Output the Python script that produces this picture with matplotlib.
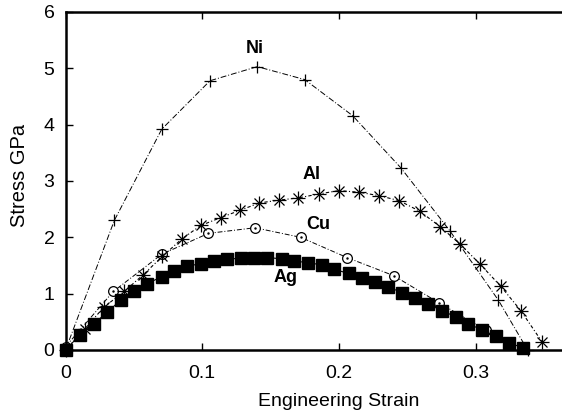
import matplotlib
matplotlib.use("Agg")
import matplotlib.pyplot as plt

plt.rcParams['font.family'] = ['Liberation Sans', 'DejaVu Sans']

# Ni (+)
ni_strain = [0.0, 0.0357, 0.0704, 0.1057, 0.1403, 0.175, 0.210, 0.2454, 0.281, 0.3166, 0.338]
ni_stress = [0.0, 2.30, 3.92, 4.78, 5.03, 4.80, 4.16, 3.23, 2.12, 0.885, 0.0]

# Al (asterisk)
al_strain = [0.0, 0.0143, 0.028, 0.043, 0.057, 0.0708, 0.085, 0.0989, 0.1135, 0.1277, 0.1418,
             0.156, 0.1703, 0.1855, 0.200, 0.2147, 0.2293, 0.2442, 0.2593, 0.274, 0.2886,
             0.303, 0.3184, 0.333, 0.3484]
al_stress = [0.0, 0.38, 0.76, 1.04, 1.34, 1.66, 1.97, 2.21, 2.35, 2.48, 2.61,
             2.66, 2.70, 2.77, 2.83, 2.80, 2.74, 2.65, 2.46, 2.19, 1.88,
             1.53, 1.13, 0.70, 0.15]

# Cu (circle)
cu_strain = [0.0, 0.035, 0.0704, 0.1045, 0.1386, 0.172, 0.206, 0.240, 0.273, 0.3076]
cu_stress = [0.06, 1.04, 1.70, 2.07, 2.17, 2.00, 1.64, 1.32, 0.84, 0.35]

# Ag (filled square)
ag_strain = [0.0, 0.0106, 0.0208, 0.0306, 0.0404, 0.050, 0.0598, 0.0704, 0.0794, 0.089,
             0.0989, 0.1086, 0.118, 0.128, 0.138, 0.1476, 0.158, 0.167, 0.1776, 0.1874,
             0.1966, 0.207, 0.2167, 0.2264, 0.236, 0.246, 0.2557, 0.2654, 0.2752, 0.2854,
             0.2946, 0.3049, 0.3147, 0.3247, 0.335]
ag_stress = [0.0, 0.27, 0.47, 0.67, 0.89, 1.04, 1.18, 1.30, 1.40, 1.49,
             1.53, 1.58, 1.61, 1.63, 1.64, 1.64, 1.62, 1.58, 1.55, 1.51,
             1.43, 1.36, 1.28, 1.21, 1.12, 1.02, 0.92, 0.81, 0.70, 0.59,
             0.47, 0.35, 0.25, 0.13, 0.03]

fig = plt.figure(figsize=(5.62, 4.18), dpi=100)
ax = fig.add_axes([0.1166, 0.1627, 0.973, 0.8086])

ax.plot(ni_strain, ni_stress, color='black', lw=0.7, ls=(0, (6, 2, 1, 2)),
        marker='+', ms=8, mew=0.9, clip_on=False, zorder=3)

ax.plot(al_strain, al_stress, color='black', lw=0.8, ls=(0, (1, 2, 3, 2)),
        marker='+', ms=10, mew=0.9, clip_on=False, zorder=3)
ax.plot(al_strain, al_stress, ls='none', color='black',
        marker='x', ms=7.5, mew=0.9, clip_on=False, zorder=3)

ax.plot(cu_strain, cu_stress, color='black', lw=0.7, ls=(0, (5, 2, 1, 2)),
        marker='o', ms=7, mfc='white', mec='black', mew=0.9, clip_on=False, zorder=2)
ax.plot(cu_strain, cu_stress, ls='none', color='black',
        marker='.', ms=1.5, clip_on=False, zorder=2)

ax.plot(ag_strain, ag_stress, color='black', lw=0.8, ls='-',
        marker='s', ms=8, clip_on=False, zorder=4)

ax.text(0.1385, 5.35, 'Ni', fontsize=13, fontweight='bold', ha='center', va='center')
ax.text(0.180, 3.12, 'Al', fontsize=13, fontweight='bold', ha='center', va='center')
ax.text(0.185, 2.23, 'Cu', fontsize=13, fontweight='bold', ha='center', va='center')
ax.text(0.1606, 1.29, 'Ag', fontsize=13, fontweight='bold', ha='center', va='center')

ax.set_xlim(0, 0.4)
ax.set_ylim(0, 6)
ax.set_xticks([0, 0.1, 0.2, 0.3])
ax.set_xticklabels(['0', '0.1', '0.2', '0.3'])
ax.set_yticks([0, 1, 2, 3, 4, 5, 6])
ax.tick_params(direction='in', length=5, width=1, labelsize=14, top=True)
ax.tick_params(axis='x', pad=11)
ax.tick_params(axis='y', pad=8)
for sp in ax.spines.values():
    sp.set_linewidth(1.8)

ax.set_xlabel('Engineering Strain', fontsize=14, labelpad=8)
ax.set_ylabel('Stress GPa', fontsize=14.5)
ax.yaxis.set_label_coords(-0.066, 0.515)

fig.savefig('out.png', dpi=100)
